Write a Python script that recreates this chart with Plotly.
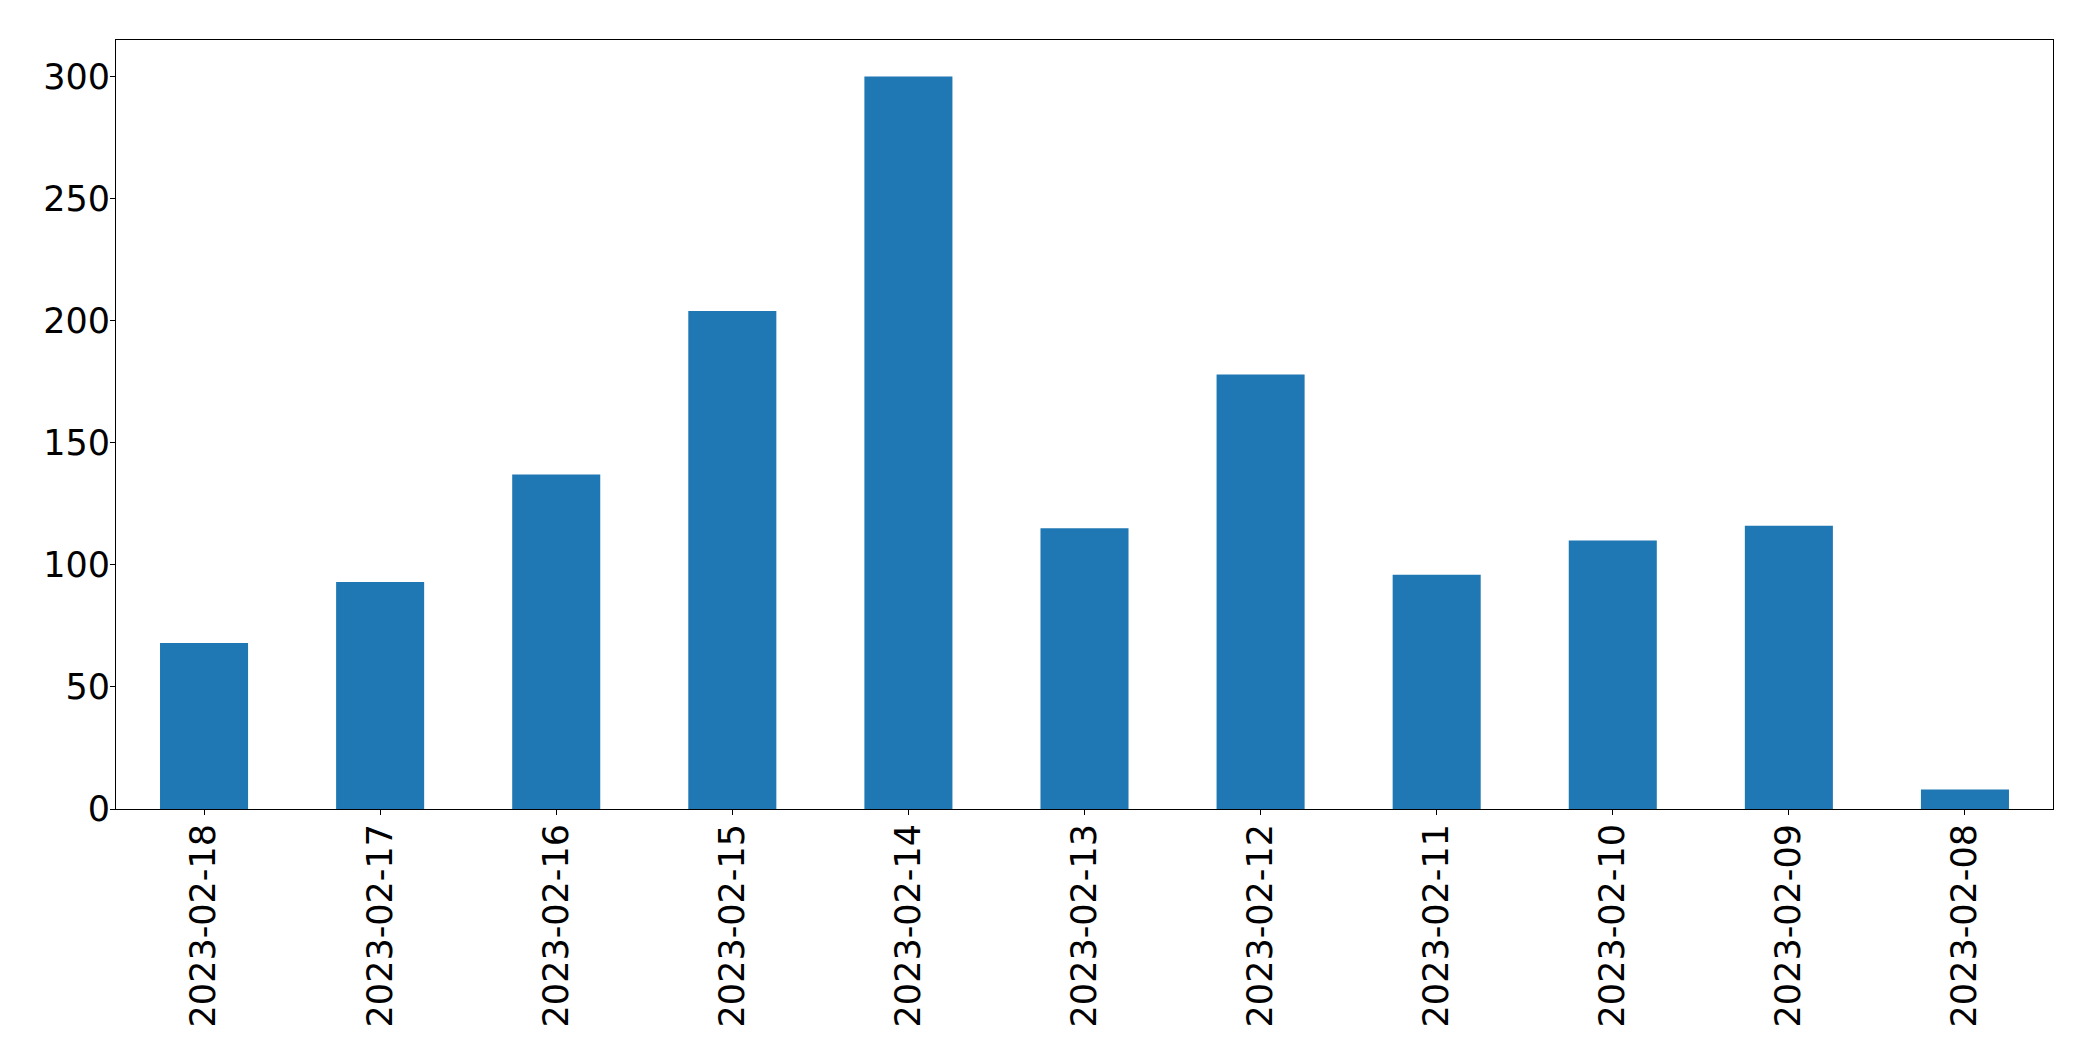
import plotly.graph_objects as go

dates = ["2023-02-18", "2023-02-17", "2023-02-16", "2023-02-15", "2023-02-14",
         "2023-02-13", "2023-02-12", "2023-02-11", "2023-02-10", "2023-02-09",
         "2023-02-08"]
counts = [68, 93, 137, 204, 300, 115, 178, 96, 110, 116, 8]
y_ticks = [0, 50, 100, 150, 200, 250, 300]

fig = go.Figure(
    go.Bar(x=dates, y=counts, width=0.5, marker=dict(color="#1f77b4", line=dict(width=0)))
)

axis_common = dict(
    showline=True, linecolor="black", linewidth=1, mirror=True,
    ticks="outside", ticklen=5, tickwidth=1, tickcolor="black",
    showgrid=False, zeroline=False,
    tickfont=dict(family="DejaVu Sans", size=35, color="black"),
)

fig.update_layout(
    width=2077, height=1045,
    margin=dict(l=108, r=32, t=32, b=244, autoexpand=False),
    paper_bgcolor="white", plot_bgcolor="white",
    showlegend=False,
    font=dict(family="DejaVu Sans", color="black"),
    xaxis=dict(type="category", range=[-0.5, 10.5], tickangle=-90,
               ticklabelstandoff=-5, **axis_common),
    yaxis=dict(range=[0, 315], tickvals=y_ticks, ticklabelstandoff=-7, **axis_common),
)

fig.write_html("out.html")
